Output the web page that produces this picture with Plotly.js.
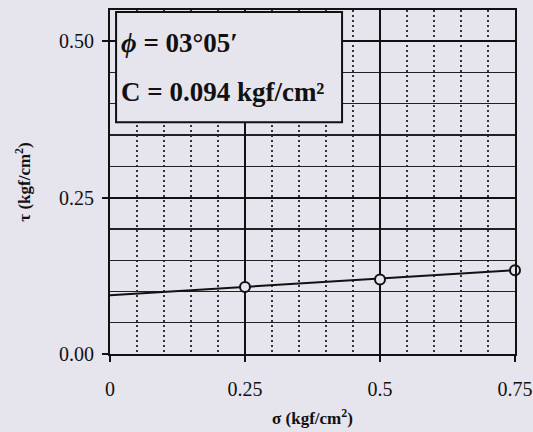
<!DOCTYPE html>
<html>
<head>
<meta charset="utf-8">
<script src="https://cdn.plot.ly/plotly-3.0.1.min.js"></script>
<style>
html,body{margin:0;padding:0;background:#e6e4ec;}
#chart{width:533px;height:432px;}
</style>
</head>
<body>
<div id="chart"></div>
<script>
// Data
const sigma = [0.25, 0.5, 0.75];            // normal stress (kgf/cm²)
const tau = [0.107, 0.119, 0.134];          // shear stress (kgf/cm²)
const fitSigma = [0, 0.75];                 // envelope ends
const fitTau = [0.094, 0.134];
const xTickVals = [0, 0.25, 0.5, 0.75];
const xTickText = ['0', '0.25', '0.5', '0.75'];
const yTickVals = [0, 0.25, 0.5];
const yTickText = ['0.00', '0.25', '0.50'];
const boxLines = ['<i>ϕ</i> = 03°05′', 'C = 0.094 kgf/cm²'];

const bg = '#e6e4ec';
const serif = 'Liberation Serif, Times New Roman, serif';

const traces = [
  {x: fitSigma, y: fitTau, mode: 'lines', line: {color: '#111', width: 2}, hoverinfo: 'skip'},
  {x: sigma, y: tau, mode: 'markers', cliponaxis: false,
   marker: {symbol: 'circle', size: 10, color: bg, line: {color: '#111', width: 2}}}
];

const layout = {
  width: 533, height: 432,
  margin: {l: 110, r: 18, t: 10, b: 78},
  paper_bgcolor: bg, plot_bgcolor: bg,
  showlegend: false,
  font: {family: serif, color: '#111'},
  xaxis: {
    range: [0, 0.75], tickvals: xTickVals, ticktext: xTickText,
    showgrid: true, gridcolor: '#111', gridwidth: 2,
    minor: {dtick: 0.05, tick0: 0, showgrid: true, gridcolor: '#333', gridwidth: 1.5, griddash: '2px,3px'},
    ticks: 'outside', ticklen: 6, tickwidth: 2, tickcolor: '#111',
    showline: true, linecolor: '#111', linewidth: 2, mirror: true,
    zeroline: false, tickfont: {size: 20, family: serif}, ticklabelstandoff: 10,
    title: {text: '<b>σ (kgf/cm<sup>2</sup>)</b>', font: {size: 17, family: serif}, standoff: 13}
  },
  yaxis: {
    range: [0, 0.55], tickvals: yTickVals, ticktext: yTickText,
    showgrid: true, gridcolor: '#111', gridwidth: 2,
    minor: {dtick: 0.05, tick0: 0, showgrid: true, gridcolor: '#222', gridwidth: 1.3},
    ticks: 'outside', ticklen: 6, tickwidth: 2, tickcolor: '#111',
    showline: true, linecolor: '#111', linewidth: 2, mirror: true,
    zeroline: false, tickfont: {size: 20, family: serif}, ticklabelstandoff: 4,
    title: {text: '<b>τ (kgf/cm<sup>2</sup>)</b>', font: {size: 17, family: serif}, standoff: 24}
  },
  shapes: [
    {type: 'rect', xref: 'paper', yref: 'paper', x0: 0.015, x1: 0.573, y0: 0.674, y1: 0.994,
     fillcolor: bg, line: {color: '#111', width: 2}, layer: 'above'}
  ],
  annotations: [
    {xref: 'paper', yref: 'paper', x: 0.022, y: 0.904, xanchor: 'left', yanchor: 'middle',
     text: '<b>' + boxLines[0] + '</b>', showarrow: false, font: {size: 27, family: serif, color: '#111'}},
    {xref: 'paper', yref: 'paper', x: 0.022, y: 0.762, xanchor: 'left', yanchor: 'middle',
     text: '<b>' + boxLines[1] + '</b>', showarrow: false, font: {size: 27, family: serif, color: '#111'}}
  ]
};

Plotly.newPlot('chart', traces, layout, {displayModeBar: false, staticPlot: true});
</script>
</body>
</html>
